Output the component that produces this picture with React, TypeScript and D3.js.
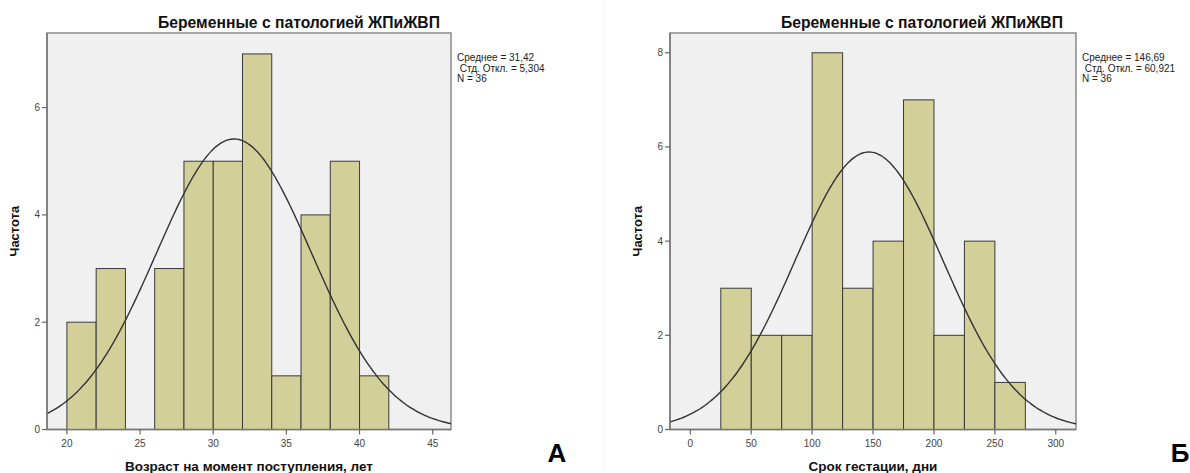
import React from 'react';
import * as d3 from 'd3';

// Histogram A: age at admission
const ageEdges = [20, 22, 24, 26, 28, 30, 32, 34, 36, 38, 40, 42];
const ageCounts = [2, 3, 0, 3, 5, 5, 7, 1, 4, 5, 1];
const ageXTicks = [20, 25, 30, 35, 40, 45];
const ageYTicks = [0, 2, 4, 6];
const ageStats = { mean: 31.42, sd: 5.304, n: 36 };
const ageStatLabels = ['Среднее = 31,42', ' Стд. Откл. = 5,304', 'N = 36'];

// Histogram Б: gestation term
const gestEdges = [25, 50, 75, 100, 125, 150, 175, 200, 225, 250, 275];
const gestCounts = [3, 2, 2, 8, 3, 4, 7, 2, 4, 1];
const gestXTicks = [0, 50, 100, 150, 200, 250, 300];
const gestYTicks = [0, 2, 4, 6, 8];
const gestStats = { mean: 146.69, sd: 60.921, n: 36 };
const gestStatLabels = ['Среднее = 146,69', ' Стд. Откл. = 60,921', 'N = 36'];

const title = 'Беременные с патологией ЖПиЖВП';
const yLabel = 'Частота';

const FONT = '"Liberation Sans", Arial, sans-serif';

type PanelProps = {
    left: number;
    right: number;
    xDomain: [number, number];
    yMax: number;
    edges: number[];
    counts: number[];
    xTicks: number[];
    yTicks: number[];
    stats: { mean: number; sd: number; n: number };
    statLabels: string[];
    xLabel: string;
    letter: string;
    letterX: number;
    titleShift: number;
};

const TOP = 33;
const BOTTOM = 429.5;

const Histogram = (p: PanelProps) => {
    const x = d3.scaleLinear().domain(p.xDomain).range([p.left, p.right]);
    const y = d3.scaleLinear().domain([0, p.yMax]).range([BOTTOM, TOP]);

    // fitted normal curve, scaled to counts
    const bin = p.edges[1] - p.edges[0];
    const scale = (p.stats.n * bin) / (p.stats.sd * Math.sqrt(2 * Math.PI));
    const curvePts = d3.range(0, 201).map(i => {
        const v = p.xDomain[0] + ((p.xDomain[1] - p.xDomain[0]) * i) / 200;
        const z = (v - p.stats.mean) / p.stats.sd;
        return [v, scale * Math.exp(-0.5 * z * z)] as [number, number];
    });
    const line = d3.line<[number, number]>()
        .x(d => x(d[0]))
        .y(d => y(d[1]))
        .curve(d3.curveBasis);

    const plotMid = (p.left + p.right) / 2;

    return (
        <g fontFamily={FONT}>
            <rect x={p.left} y={TOP} width={p.right - p.left} height={BOTTOM - TOP}
                fill="#f0f0f0" stroke="#8a8a8a" strokeWidth={1.5} />
            {p.counts.map((c, i) => c > 0 && (
                <rect key={i}
                    x={x(p.edges[i])} y={y(c)}
                    width={x(p.edges[i + 1]) - x(p.edges[i])}
                    height={y(0) - y(c)}
                    fill="#d3cf98" stroke="#3a3a3a" strokeWidth={1} />
            ))}
            <path d={line(curvePts) || ''} fill="none" stroke="#333" strokeWidth={1.4} />
            {/* axes */}
            <line x1={p.left} x2={p.left} y1={TOP} y2={BOTTOM} stroke="#777" strokeWidth={1.5} />
            <line x1={p.left} x2={p.right} y1={BOTTOM} y2={BOTTOM} stroke="#777" strokeWidth={1.5} />
            {p.yTicks.map(t => (
                <g key={'y' + t}>
                    <line x1={p.left - 5} x2={p.left} y1={y(t)} y2={y(t)} stroke="#666" strokeWidth={1.2} />
                    <text x={p.left - 7} y={y(t)} dy="0.35em" textAnchor="end" fontSize={10} fill="#444">{t}</text>
                </g>
            ))}
            {p.xTicks.map(t => (
                <g key={'x' + t}>
                    <line x1={x(t)} x2={x(t)} y1={BOTTOM} y2={BOTTOM + 5} stroke="#666" strokeWidth={1.2} />
                    <text x={x(t)} y={BOTTOM + 17} textAnchor="middle" fontSize={10} fill="#444">{t}</text>
                </g>
            ))}
            <text x={plotMid + p.titleShift} y={28} textAnchor="middle" fontSize={15.7} fontWeight="bold" fill="#111">{title}</text>
            {p.statLabels.map((s, i) => (
                <text key={i} x={p.right + 6} y={61 + i * 10.5} fontSize={10} fill="#222"
                    style={{ whiteSpace: 'pre' }}>{s}</text>
            ))}
            <text transform={`translate(${p.left - 28},${(TOP + BOTTOM) / 2}) rotate(-90)`}
                textAnchor="middle" fontSize={13} fontWeight="bold" fill="#111">{yLabel}</text>
            <text x={plotMid} y={471} textAnchor="middle" fontSize={13.5} fontWeight="bold" fill="#111">{p.xLabel}</text>
            <text x={p.letterX} y={462} textAnchor="middle" fontSize={26} fontWeight="bold" fill="#000">{p.letter}</text>
        </g>
    );
};

export default function App() {
    return (
        <svg width={1190} height={473} style={{ position: 'absolute', left: 0, top: 0, background: '#fff' }}>
            <line x1={604} x2={604} y1={0} y2={473} stroke="#f3f3f3" strokeWidth={1} />
            <Histogram left={47} right={451} xDomain={[18.64, 46.25]} yMax={7.39}
                edges={ageEdges} counts={ageCounts} xTicks={ageXTicks} yTicks={ageYTicks}
                stats={ageStats} statLabels={ageStatLabels}
                xLabel="Возраст на момент поступления, лет" letter="А" letterX={557} titleShift={50} />
            <Histogram left={670} right={1076} xDomain={[-16.7, 316.6]} yMax={8.42}
                edges={gestEdges} counts={gestCounts} xTicks={gestXTicks} yTicks={gestYTicks}
                stats={gestStats} statLabels={gestStatLabels}
                xLabel="Срок гестации, дни" letter="Б" letterX={1180} titleShift={49} />
        </svg>
    );
}
